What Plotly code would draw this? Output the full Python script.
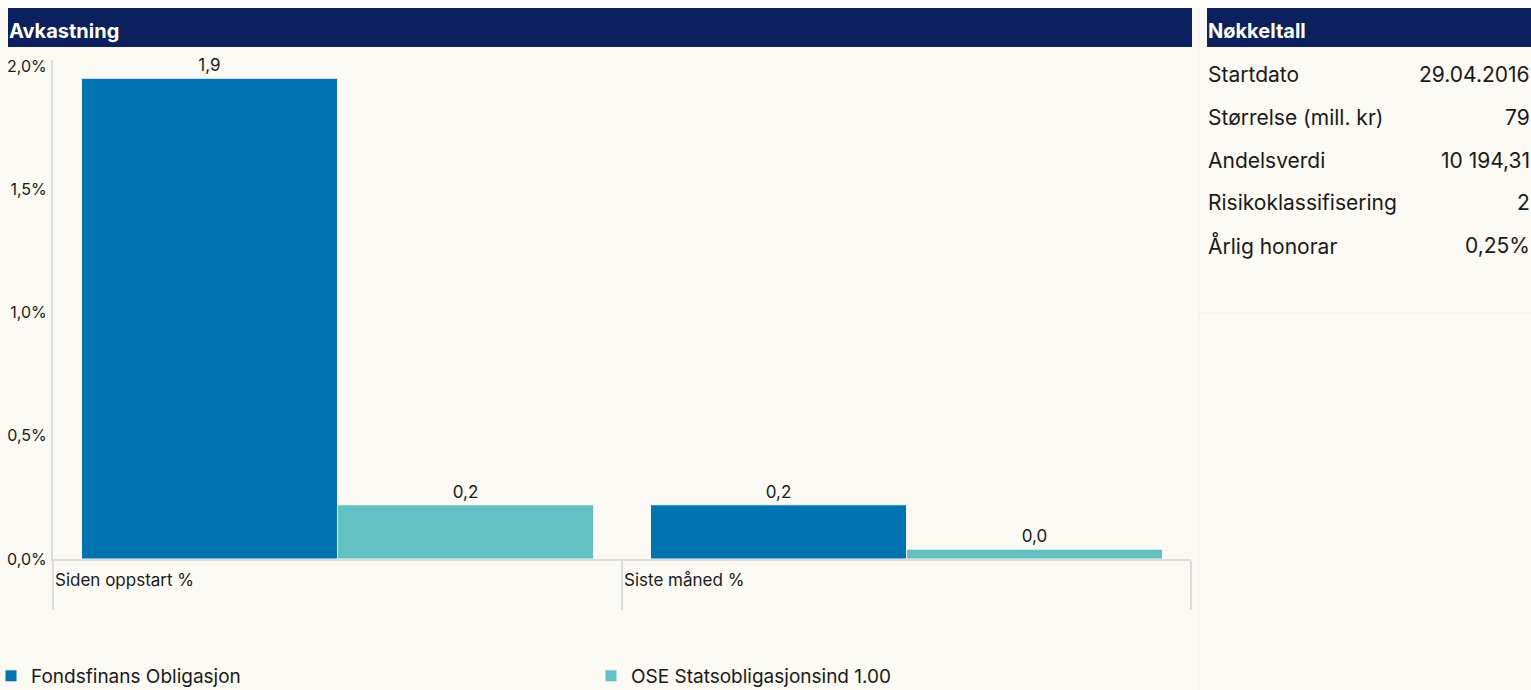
import plotly.graph_objects as go

categories = ["Siden oppstart %", "Siste måned %"]
fund_name = "Fondsfinans Obligasjon"
index_name = "OSE Statsobligasjonsind 1.00"
fund_values = [1.95, 0.22]
index_values = [0.22, 0.04]
y_ticks = [0, 0.5, 1.0, 1.5, 2.0]
y_tick_labels = ["0,0%", "0,5%", "1,0%", "1,5%", "2,0%"]

key_labels = ["Startdato", "Størrelse (mill. kr)", "Andelsverdi", "Risikoklassifisering", "Årlig honorar"]
key_values = ["29.04.2016", "79", "10 194,31", "2", "0,25%"]

W, H = 1531, 690
L, R, T, B = 53, 1531 - 1191, 60, 690 - 559
PW = W - L - R
PH = H - T - B

NAVY = "#0C1F5E"
BLUE = "#0073B0"
TEAL = "#62C1C0"
CREAM = "#FAF9F3"
GRID = "#DCDCDC"
TXT = "#1a1a1a"
FONT = "Inter, Roboto, sans-serif"


def px(p):
    """page x pixel -> paper x"""
    return (p - L) / PW


def py(q):
    """page y pixel -> paper y"""
    return (H - B - q) / PH


fig = go.Figure()
fig.add_trace(go.Bar(
    x=categories, y=fund_values, name=fund_name, legend="legend",
    marker=dict(color=BLUE, line=dict(color=CREAM, width=1)),
    texttemplate="%{y:.1f}", textposition="outside",
    textfont=dict(color=TXT, size=17, family=FONT), cliponaxis=False,
))
fig.add_trace(go.Bar(
    x=categories, y=index_values, name=index_name, legend="legend2",
    marker=dict(color=TEAL, line=dict(color=CREAM, width=1)),
    texttemplate="%{y:.1f}", textposition="outside",
    textfont=dict(color=TXT, size=17, family=FONT), cliponaxis=False,
))

shapes = [
    dict(type="rect", xref="paper", yref="paper", x0=px(0), x1=px(W), y0=py(0), y1=py(8),
         fillcolor="white", line=dict(width=0), layer="below"),
    dict(type="rect", xref="paper", yref="paper", x0=px(8), x1=px(1192), y0=py(8), y1=py(47),
         fillcolor=NAVY, line=dict(width=0)),
    dict(type="rect", xref="paper", yref="paper", x0=px(1207), x1=px(1531), y0=py(8), y1=py(47),
         fillcolor=NAVY, line=dict(width=0)),
    dict(type="line", xref="paper", yref="paper", x0=px(1199), x1=px(1199), y0=py(8), y1=py(690),
         line=dict(color="#F1F0E9", width=1)),
    dict(type="line", xref="paper", yref="paper", x0=px(1199), x1=px(1531), y0=py(313), y1=py(313),
         line=dict(color="#F1F0E9", width=1)),
]

annotations = [
    dict(text="<b>Avkastning</b>", xref="paper", yref="paper", x=px(7), y=py(31),
         xanchor="left", yanchor="middle", showarrow=False,
         font=dict(color="white", size=20, family=FONT)),
    dict(text="<b>Nøkkeltall</b>", xref="paper", yref="paper", x=px(1206), y=py(31),
         xanchor="left", yanchor="middle", showarrow=False,
         font=dict(color="white", size=20, family=FONT)),
]
for i, c in enumerate(categories):
    annotations.append(dict(text=c, xref="x", yref="paper", x=i - 0.5, y=0,
                            xanchor="left", yanchor="top", xshift=0, yshift=-9, showarrow=False,
                            font=dict(color=TXT, size=17, family=FONT)))
row_y = [74, 117, 160, 203, 245]
for lab, val, yy in zip(key_labels, key_values, row_y):
    annotations.append(dict(text=lab, xref="paper", yref="paper", x=px(1206), y=py(yy),
                            xanchor="left", yanchor="middle", showarrow=False,
                            font=dict(color=TXT, size=21, family=FONT)))
    annotations.append(dict(text=val, xref="paper", yref="paper", x=px(1532), y=py(yy),
                            xanchor="right", yanchor="middle", showarrow=False,
                            font=dict(color=TXT, size=21, family=FONT)))

legend_common = dict(orientation="h", xanchor="left", yanchor="top", y=py(657),
                     bgcolor="rgba(0,0,0,0)", borderwidth=0,
                     font=dict(size=19, family=FONT, color=TXT))

fig.update_layout(
    width=W, height=H,
    margin=dict(l=L, r=R, t=T, b=B, autoexpand=False),
    paper_bgcolor=CREAM, plot_bgcolor=CREAM,
    barmode="group", bargap=0.1, bargroupgap=0,
    separators=", ",
    font=dict(family=FONT, color=TXT, size=17),
    xaxis=dict(type="category", showticklabels=False, tickson="boundaries",
               ticks="outside", ticklen=49, tickwidth=2, tickcolor=GRID,
               showline=True, linecolor=GRID, linewidth=2, showgrid=False,
               zeroline=False),
    yaxis=dict(range=[0, 2.024], tickvals=y_ticks, ticktext=y_tick_labels,
               showline=True, linecolor=GRID, linewidth=2, showgrid=False,
               zeroline=False, ticks="", ticklabelstandoff=1,
               tickfont=dict(size=16, family=FONT)),
    showlegend=True,
    legend=dict(x=px(-9), **legend_common),
    legend2=dict(x=px(591), **legend_common),
    shapes=shapes,
    annotations=annotations,
)

fig.write_html(
    "out.html",
    config={"displayModeBar": False},
    post_script="document.body.style.margin='0';document.body.style.overflow='hidden';",
)
